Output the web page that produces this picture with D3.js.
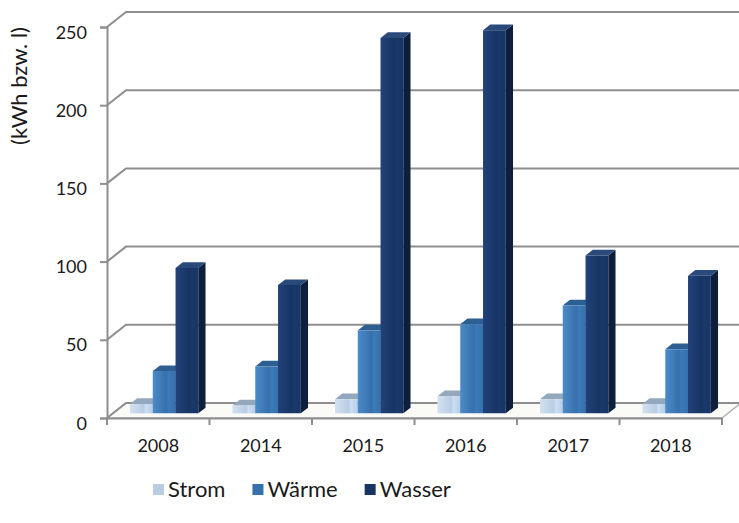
<!DOCTYPE html>
<html>
<head>
<meta charset="utf-8">
<script src="https://cdn.jsdelivr.net/npm/d3@7"></script>
<style>
  html, body { margin: 0; padding: 0; background: #ffffff; }
  svg { display: block; }
  text { font-family: Lato, "Open Sans", sans-serif; fill: #1a1a1a; }
</style>
</head>
<body>
<svg id="chart" width="739" height="523"></svg>
<script>
// Consumption per year (kWh or litres)
const years  = ["2008", "2014", "2015", "2016", "2017", "2018"];
const series = ["Strom", "Wärme", "Wasser"];
const strom  = [6, 5, 9, 11, 9, 6];
const waerme = [27, 30, 53, 57, 69, 41];
const wasser = [93, 82, 240, 245, 101, 88];
const yTicks = [0, 50, 100, 150, 200, 250];
const yTitle = "(kWh bzw. l)";

const values = [strom, waerme, wasser];

// face colours per series: front (left/right of gradient), top, side
const palette = [
  { f1: "#d3e2f2", f2: "#b9cce2", top: "#93a8bc", side: "#a3b6c9" },
  { f1: "#4b8bc9", f2: "#3770ab", top: "#2e5f92", side: "#2a5783" },
  { f1: "#21427a", f2: "#173463", top: "#2a4a7c", side: "#0e1f3c" }
];

const svg = d3.select("#chart");

// 3D projection of the plot box: depth 0 = front plane, depth 1 = back wall
const DX = 19, DY = 15;
const x0 = 107, x1 = 722;
const x = d3.scaleBand().domain(years).range([x0, x1]).paddingInner(0).paddingOuter(0);
const y = d3.scaleLinear().domain([0, 250]).range([418, 27]);
const inner = d3.scaleBand().domain(series)
  .range([0, x.bandwidth()]).paddingInner(0).paddingOuter(0.75);

const proj = (px, v, d) => [px + d * DX, y(v) - d * DY];

// gradients for front faces
const defs = svg.append("defs");
palette.forEach((p, i) => {
  const g = defs.append("linearGradient").attr("id", "front" + i)
    .attr("x1", "0").attr("x2", "1").attr("y1", "0").attr("y2", "0");
  g.append("stop").attr("offset", "0").attr("stop-color", p.f1);
  g.append("stop").attr("offset", "0.6").attr("stop-color", p.f2);
  g.append("stop").attr("offset", "0.7").attr("stop-color", d3.color(p.f2).brighter(0.25));
  g.append("stop").attr("offset", "1").attr("stop-color", p.f2);
});

const line = d3.line();
const gridColor = "#8e8e8e";

// floor
const floor = [proj(x0, 0, 0), proj(x1, 0, 0), proj(x1, 0, 1), proj(x0, 0, 1)];
svg.append("path").attr("d", line(floor) + "Z")
  .attr("fill", "#fafaf6").attr("stroke", "#b4b4b4").attr("stroke-width", 1.5);

// gridlines on the side and back walls
svg.append("g").selectAll("path").data(yTicks).join("path")
  .attr("d", v => line([proj(x0, v, 0), proj(x0, v, 1), proj(x1, v, 1)]))
  .attr("fill", "none").attr("stroke", gridColor).attr("stroke-width", 2);

// value axis
const yAxis = svg.append("g").attr("transform", `translate(${x0},0)`)
  .call(d3.axisLeft(y).tickValues(yTicks).tickSize(7).tickPadding(13));
yAxis.select(".domain").attr("stroke", gridColor).attr("stroke-width", 2);
yAxis.selectAll(".tick line").attr("stroke", gridColor).attr("stroke-width", 2);
yAxis.selectAll(".tick text").attr("font-size", 18).attr("dy", "0.62em")
  .style("font-family", "Lato, sans-serif").attr("fill", "#1a1a1a");

// category axis: labels centred in each band, ticks on band edges
const xAxis = svg.append("g").attr("transform", `translate(0,${y(0)})`)
  .call(d3.axisBottom(x).tickSize(0).tickPadding(23));
xAxis.select(".domain").attr("stroke", gridColor).attr("stroke-width", 2);
xAxis.selectAll(".tick text").attr("font-size", 18).attr("dy", "0.6em")
  .style("font-family", "Lato, sans-serif").attr("fill", "#1a1a1a");
const edges = years.map(c => x(c)).concat([x1]);
xAxis.append("g").selectAll("line").data(edges).join("line")
  .attr("x1", d => d).attr("x2", d => d).attr("y1", 0).attr("y2", 7)
  .attr("stroke", gridColor).attr("stroke-width", 2);

// 3D columns
const dA = 0.31, dB = 0.69;
const bars = [];
years.forEach((c, ci) => {
  series.forEach((s, si) => {
    bars.push({ c, s, si, v: values[si][ci] });
  });
});
const barG = svg.append("g");
bars.forEach(b => {
  const xl = x(b.c) + inner(b.s);
  const xr = xl + inner.bandwidth();
  const p = palette[b.si];
  const g = barG.append("g");
  const front = [proj(xl, 0, dA), proj(xr, 0, dA), proj(xr, b.v, dA), proj(xl, b.v, dA)];
  const side = [proj(xr, 0, dA), proj(xr, 0, dB), proj(xr, b.v, dB), proj(xr, b.v, dA)];
  const top = [proj(xl, b.v, dA), proj(xr, b.v, dA), proj(xr, b.v, dB), proj(xl, b.v, dB)];
  g.append("path").attr("d", line(side) + "Z").attr("fill", p.side);
  g.append("path").attr("d", line(top) + "Z").attr("fill", p.top);
  g.append("path").attr("d", line(front) + "Z").attr("fill", `url(#front${b.si})`);
});

// value axis title
svg.append("text")
  .attr("transform", "translate(27,86) rotate(-90)")
  .attr("text-anchor", "middle")
  .attr("font-size", 22)
  .text(yTitle);

// legend
const legend = svg.append("g").attr("transform", "translate(153,497)");
let lx = 0;
series.forEach((s, i) => {
  const item = legend.append("g").attr("transform", `translate(${lx},0)`);
  item.append("rect").attr("x", 0).attr("y", -13).attr("width", 11).attr("height", 11)
    .attr("fill", palette[i].f2);
  const t = item.append("text").attr("x", 15).attr("y", 0).attr("font-size", 22).text(s);
  lx += 15 + t.node().getComputedTextLength() + 27;
});
</script>
</body>
</html>
